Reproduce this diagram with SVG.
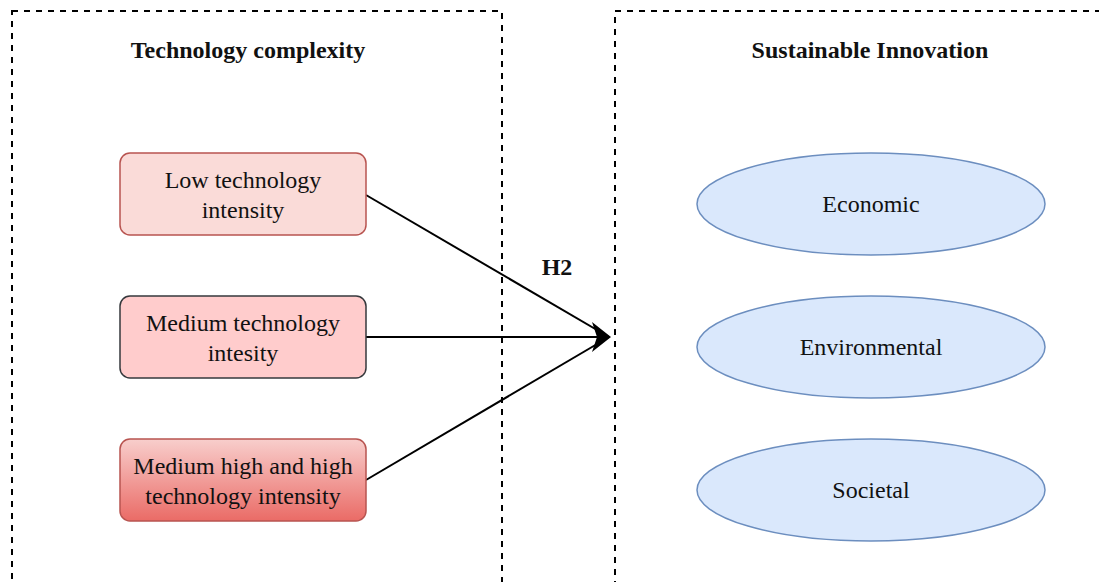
<svg xmlns="http://www.w3.org/2000/svg" width="1099" height="582" viewBox="0 0 1099 582">
<style>
.t{font-family:"Liberation Serif","Times New Roman",serif;font-size:24px;fill:#111;text-anchor:middle}
.b{font-weight:bold}
.frame{fill:none;stroke:#000;stroke-width:2;stroke-dasharray:6 6}
.ell{fill:#dae8fc;stroke:#6c8ebf;stroke-width:1.5}
.con{stroke:#000;stroke-width:2;fill:none}
</style>
<defs>
<linearGradient id="g1" x1="0" y1="0" x2="0" y2="1">
<stop offset="0" stop-color="#f8cecc"/>
<stop offset="1" stop-color="#ea6b66"/>
</linearGradient>
</defs>
<rect width="1099" height="582" fill="#fff"/>
<g id="group-left">
<rect class="frame" x="12" y="11" width="490" height="580"/>
<text class="t b" x="248" y="58">Technology complexity</text>
</g>
<g id="group-right">
<rect class="frame" x="615" y="11" width="500" height="580"/>
<text class="t b" x="870" y="58">Sustainable Innovation</text>
</g>
<g id="connectors">
<line class="con" x1="366" y1="195" x2="609" y2="337"/>
<line class="con" x1="366" y1="337" x2="609" y2="337"/>
<line class="con" x1="366" y1="480" x2="609" y2="337"/>
<path d="M611,337 L592,322 L597,337 L592,352 Z" fill="#000"/>
<text class="t b" x="557" y="275">H2</text>
</g>
<g id="node-low">
<rect x="120" y="153" width="246" height="82" rx="10" fill="#fadbd8" stroke="#b85450" stroke-width="1.5"/>
<text class="t" x="243" y="188">Low technology</text>
<text class="t" x="243" y="218">intensity</text>
</g>
<g id="node-medium">
<rect x="120" y="296" width="246" height="82" rx="10" fill="#ffcccc" stroke="#36393d" stroke-width="1.5"/>
<text class="t" x="243" y="331">Medium technology</text>
<text class="t" x="243" y="361">intesity</text>
</g>
<g id="node-high">
<rect x="120" y="439" width="246" height="82" rx="10" fill="url(#g1)" stroke="#b85450" stroke-width="1.5"/>
<text class="t" x="243" y="474">Medium high and high</text>
<text class="t" x="243" y="504">technology intensity</text>
</g>
<g id="node-economic">
<ellipse class="ell" cx="871" cy="204" rx="174" ry="51"/>
<text class="t" x="871" y="212">Economic</text>
</g>
<g id="node-environmental">
<ellipse class="ell" cx="871" cy="347" rx="174" ry="51"/>
<text class="t" x="871" y="355">Environmental</text>
</g>
<g id="node-societal">
<ellipse class="ell" cx="871" cy="490" rx="174" ry="51"/>
<text class="t" x="871" y="498">Societal</text>
</g>
</svg>
